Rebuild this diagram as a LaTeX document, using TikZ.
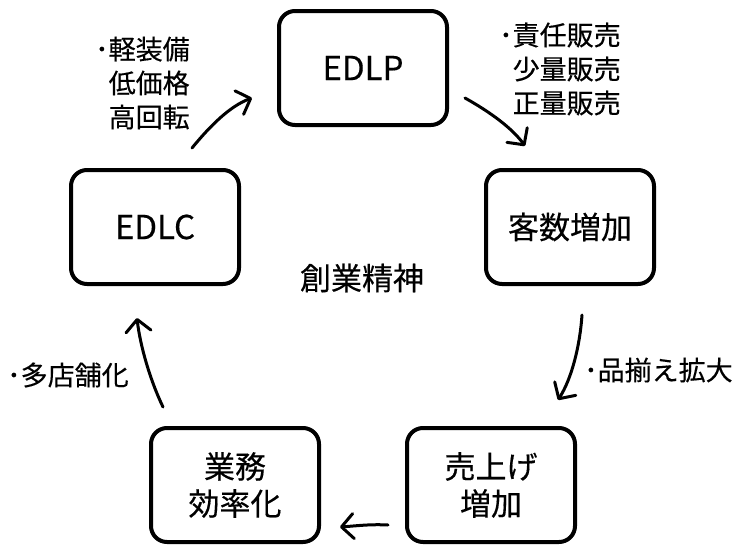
\documentclass[tikz,border=0pt]{standalone}
\usepackage{fontspec}
\setmainfont{Noto Sans CJK JP}[FakeBold=0.35]
\usetikzlibrary{arrows.meta}
\begin{document}
\begin{tikzpicture}[x=1pt,y=-1pt,
  box/.style={draw, line width=4pt, rounded corners=16pt, minimum width=168pt, minimum height=114pt,
     align=center, inner sep=0pt, font=\fontsize{31pt}{37pt}\selectfont},
  lbl/.style={anchor=west, align=left, inner sep=0pt, font=\fontsize{27pt}{34pt}\selectfont},
  cyc/.style={line width=3pt, line cap=round, -{Straight Barb[length=12pt,width=25pt,round]}}]
\useasboundingbox (0,0) rectangle (739,546);
\node[box, font=\fontsize{33pt}{37pt}\selectfont] (edlp) at (363,68) {EDLP};
\node[box] (kyaku) at (570,227) {客数増加};
\node[box] (uri) at (491,485) {売上げ\\増加};
\node[box] (gyomu) at (235,485) {業務\\効率化};
\node[box, font=\fontsize{33pt}{37pt}\selectfont] (edlc) at (155,227) {EDLC};
\node[inner sep=0pt, font=\fontsize{31pt}{37pt}\selectfont] (sogyo) at (362,278) {創業精神};
\node[lbl] (l1) at (95,83) {･軽装備\\\phantom{･}低価格\\\phantom{･}高回転};
\node[lbl] (l2) at (499,69) {･責任販売\\\phantom{･}少量販売\\\phantom{･}正量販売};
\node[lbl] (l3) at (584,370) {･品揃え拡大};
\node[lbl] (l4) at (7,375) {･多店舗化};
\coordinate (a1s) at (192,148); \coordinate (a1e) at (252,98);
\coordinate (a2s) at (465,98); \coordinate (a2e) at (525,146);
\coordinate (a3s) at (582,315); \coordinate (a3e) at (558,400);
\coordinate (a4s) at (388,525); \coordinate (a4e) at (340,527);
\coordinate (a5s) at (163,407); \coordinate (a5e) at (137,318);
\draw[cyc] (a1s) .. controls (210,126) and (230,106) .. (a1e);
\draw[cyc] (a2s) .. controls (490,112) and (512,128) .. (a2e);
\draw[cyc] (a3s) .. controls (580,345) and (572,378) .. (a3e);
\draw[cyc] (a4s) .. controls (370,524) and (355,526) .. (a4e);
\draw[cyc] (a5s) .. controls (150,380) and (140,345) .. (a5e);
\end{tikzpicture}
\end{document}
